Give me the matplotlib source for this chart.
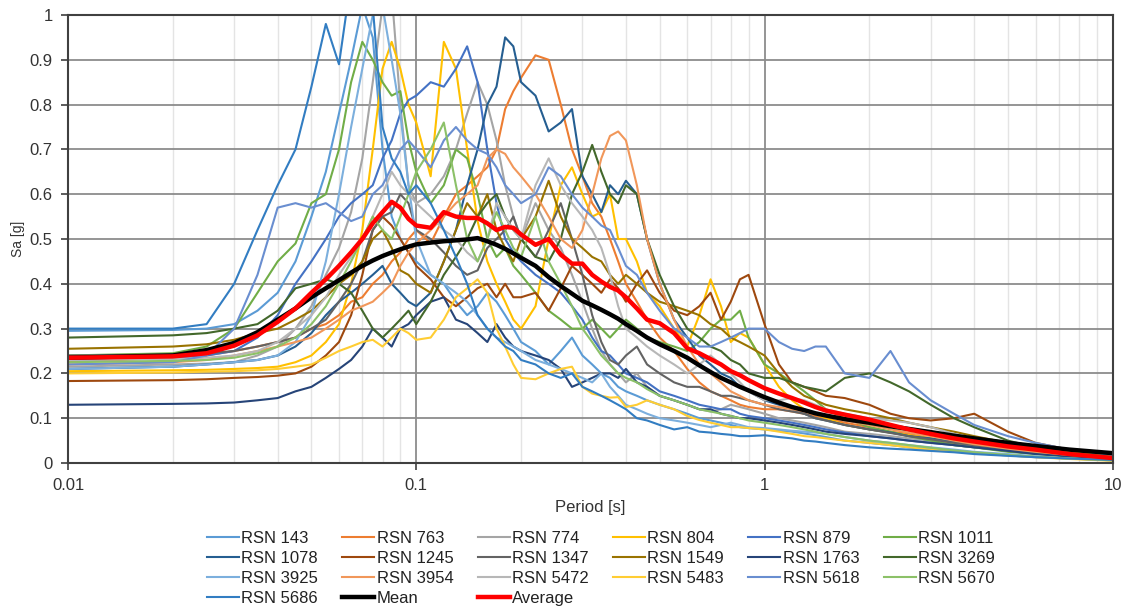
import matplotlib
matplotlib.use("Agg")
import matplotlib.pyplot as plt
from matplotlib.ticker import FixedLocator, NullFormatter, LogLocator

plt.rcParams['font.family'] = ['Liberation Sans', 'DejaVu Sans']

# spectral periods [s] shared by every record
period = [0.01, 0.02, 0.025, 0.03, 0.035, 0.04, 0.045, 0.05, 0.055, 0.06,
          0.065, 0.07, 0.075, 0.08, 0.085, 0.09, 0.095, 0.1, 0.11, 0.12,
          0.13, 0.14, 0.15, 0.16, 0.17, 0.18, 0.19, 0.2, 0.22, 0.24,
          0.26, 0.28, 0.3, 0.32, 0.34, 0.36, 0.38, 0.4, 0.43, 0.46,
          0.5, 0.55, 0.6, 0.65, 0.7, 0.75, 0.8, 0.85, 0.9, 1.0,
          1.1, 1.2, 1.3, 1.4, 1.5, 1.7, 2.0, 2.3, 2.6, 3.0,
          3.5, 4.0, 5.0, 6.0, 7.5, 10.0]

rsn_143 = [.295, .297, .30, .31, .34, .38, .45, .55, .65, .78,
           .90, 1.02, .95, .70, .55, .50, .47, .45, .42, .40,
           .36, .33, .35, .38, .36, .33, .30, .27, .25, .22,
           .25, .28, .24, .22, .20, .19, .17, .16, .15, .14,
           .13, .12, .11, .10, .095, .09, .085, .08, .078, .075,
           .072, .07, .066, .062, .058, .05, .045, .04, .035, .03,
           .026, .022, .017, .013, .01, .006]
rsn_763 = [.225, .235, .24, .25, .26, .27, .28, .30, .31, .33,
           .36, .37, .40, .42, .45, .47, .50, .52, .49, .55,
           .60, .62, .64, .66, .70, .79, .83, .86, .91, .90,
           .80, .70, .64, .58, .55, .50, .45, .40, .36, .32,
           .28, .25, .21, .18, .16, .15, .14, .13, .125, .12,
           .12, .115, .11, .105, .10, .09, .08, .07, .065, .055,
           .045, .04, .03, .024, .018, .012]
rsn_774 = [.215, .22, .222, .225, .24, .26, .30, .35, .42, .48,
           .56, .68, .85, 1.02, 1.05, .80, .62, .58, .60, .64,
           .70, .78, .85, .80, .72, .62, .55, .50, .58, .52,
           .48, .42, .36, .30, .25, .22, .20, .18, .20, .17,
           .15, .14, .13, .12, .115, .12, .13, .125, .12, .11,
           .10, .095, .09, .085, .08, .07, .065, .06, .055, .05,
           .04, .035, .028, .022, .016, .01]
rsn_804 = [.205, .207, .208, .21, .212, .215, .225, .24, .27, .31,
           .40, .52, .70, .88, .94, .88, .80, .76, .64, .94,
           .88, .70, .54, .45, .40, .36, .32, .30, .35, .50,
           .62, .66, .60, .55, .56, .60, .50, .50, .45, .38,
           .35, .30, .26, .33, .41, .35, .27, .29, .28, .22,
           .17, .14, .12, .11, .10, .085, .075, .068, .062, .055,
           .045, .04, .03, .024, .018, .012]
rsn_879 = [.23, .235, .24, .25, .28, .33, .40, .45, .50, .55,
           .58, .60, .62, .68, .72, .78, .81, .82, .85, .84,
           .88, .93, .85, .70, .58, .50, .47, .45, .42, .40,
           .38, .35, .32, .28, .25, .24, .22, .20, .19, .18,
           .16, .15, .14, .13, .125, .12, .12, .11, .105, .10,
           .095, .09, .085, .08, .075, .068, .06, .055, .05, .045,
           .04, .035, .028, .022, .016, .01]
rsn_1011 = [.24, .245, .26, .30, .38, .45, .49, .58, .60, .70,
            .85, .94, .90, .85, .82, .83, .72, .65, .58, .62,
            .70, .68, .60, .50, .46, .48, .44, .42, .38, .34,
            .32, .30, .30, .32, .30, .28, .30, .32, .30, .28,
            .27, .26, .25, .27, .30, .32, .32, .34, .28, .22,
            .20, .18, .16, .14, .12, .10, .08, .07, .06, .05,
            .04, .035, .025, .02, .014, .008]
rsn_1078 = [.21, .215, .22, .225, .23, .24, .26, .29, .33, .36,
            .38, .40, .42, .44, .40, .38, .36, .35, .38, .45,
            .52, .62, .70, .80, .84, .95, .93, .85, .82, .74,
            .76, .79, .64, .60, .56, .62, .60, .63, .60, .50,
            .40, .32, .28, .24, .22, .20, .19, .17, .16, .14,
            .13, .12, .11, .10, .095, .085, .075, .068, .06, .055,
            .047, .04, .03, .024, .017, .011]
rsn_1245 = [.183, .185, .187, .19, .192, .195, .20, .215, .24, .27,
            .33, .42, .52, .55, .53, .50, .47, .44, .41, .37,
            .35, .37, .39, .40, .37, .40, .37, .37, .38, .34,
            .39, .44, .42, .40, .38, .41, .39, .36, .40, .43,
            .38, .34, .33, .35, .38, .32, .36, .41, .42, .31,
            .22, .18, .17, .16, .15, .145, .13, .11, .10, .095,
            .10, .11, .07, .045, .03, .015]
rsn_1347 = [.24, .242, .245, .25, .26, .27, .28, .30, .32, .36,
            .40, .45, .52, .55, .56, .60, .58, .52, .50, .47,
            .44, .42, .43, .48, .50, .52, .55, .50, .46, .52,
            .58, .50, .42, .33, .27, .23, .22, .24, .26, .22,
            .20, .18, .17, .17, .16, .15, .15, .145, .14, .13,
            .12, .115, .11, .10, .095, .085, .075, .067, .06, .053,
            .045, .04, .032, .025, .018, .012]
rsn_1549 = [.255, .26, .265, .275, .29, .30, .32, .34, .37, .40,
            .42, .45, .50, .52, .48, .43, .42, .40, .38, .45,
            .52, .58, .55, .60, .52, .48, .45, .50, .55, .63,
            .55, .50, .48, .46, .45, .42, .40, .42, .40, .38,
            .36, .35, .34, .33, .31, .30, .28, .27, .26, .24,
            .20, .17, .15, .14, .13, .12, .11, .10, .09, .08,
            .07, .06, .045, .035, .025, .015]
rsn_1763 = [.13, .132, .133, .135, .14, .145, .16, .17, .19, .21,
            .23, .26, .30, .28, .26, .30, .31, .33, .36, .37,
            .32, .31, .29, .27, .31, .28, .26, .25, .24, .23,
            .21, .17, .18, .19, .20, .20, .19, .21, .18, .17,
            .15, .14, .13, .12, .12, .11, .105, .10, .10, .095,
            .09, .085, .08, .075, .07, .065, .06, .055, .05, .045,
            .04, .035, .027, .02, .015, .01]
rsn_3269 = [.28, .285, .29, .30, .31, .34, .39, .40, .41, .40,
            .38, .34, .30, .28, .30, .32, .34, .31, .36, .42,
            .46, .50, .55, .58, .60, .55, .52, .50, .46, .45,
            .50, .60, .65, .71, .65, .60, .58, .62, .60, .50,
            .42, .35, .30, .28, .26, .25, .23, .22, .20, .19,
            .19, .18, .17, .165, .16, .19, .20, .18, .16, .13,
            .10, .08, .05, .035, .022, .012]
rsn_3925 = [.21, .215, .22, .225, .23, .24, .27, .33, .45, .60,
            .75, .88, 1.0, 1.02, .90, .78, .62, .50, .42, .40,
            .38, .36, .33, .30, .28, .27, .26, .25, .23, .22,
            .21, .20, .19, .18, .20, .17, .15, .13, .12, .11,
            .10, .095, .09, .085, .08, .085, .09, .085, .08, .078,
            .075, .072, .07, .068, .065, .058, .05, .045, .04, .035,
            .03, .025, .02, .015, .01, .006]
rsn_3954 = [.22, .225, .23, .24, .25, .26, .27, .28, .30, .32,
            .34, .35, .36, .38, .40, .44, .47, .49, .52, .55,
            .58, .60, .62, .68, .70, .69, .66, .64, .60, .55,
            .50, .48, .52, .60, .68, .73, .74, .72, .62, .50,
            .40, .32, .26, .22, .20, .18, .16, .15, .14, .13,
            .125, .12, .115, .11, .105, .095, .085, .075, .068, .06,
            .05, .042, .032, .025, .018, .012]
rsn_5472 = [.23, .232, .235, .24, .25, .27, .30, .33, .37, .42,
            .46, .50, .55, .60, .65, .62, .60, .58, .55, .52,
            .50, .47, .45, .50, .58, .55, .52, .50, .62, .68,
            .62, .58, .55, .52, .48, .42, .35, .30, .28, .26,
            .24, .22, .20, .22, .24, .22, .20, .18, .16, .14,
            .14, .145, .14, .13, .12, .11, .10, .095, .09, .08,
            .065, .055, .04, .03, .02, .012]
rsn_5483 = [.20, .202, .204, .205, .207, .21, .215, .22, .235, .25,
            .26, .27, .275, .26, .28, .30, .29, .275, .28, .32,
            .37, .39, .41, .38, .30, .26, .22, .19, .187, .20,
            .21, .215, .17, .155, .15, .146, .147, .125, .13, .14,
            .13, .12, .105, .096, .09, .085, .08, .08, .078, .075,
            .07, .065, .06, .058, .055, .05, .045, .04, .035, .03,
            .026, .022, .017, .013, .009, .005]
rsn_5618 = [.22, .225, .24, .30, .42, .57, .58, .57, .58, .56,
            .54, .55, .60, .62, .66, .70, .72, .70, .66, .72,
            .75, .72, .70, .69, .66, .62, .60, .58, .60, .66,
            .64, .60, .57, .55, .53, .52, .48, .44, .42, .38,
            .34, .30, .28, .26, .26, .27, .28, .29, .30, .30,
            .27, .255, .25, .26, .26, .20, .19, .25, .18, .14,
            .11, .085, .06, .045, .03, .018]
rsn_5670 = [.225, .228, .23, .235, .245, .26, .28, .31, .35, .40,
            .45, .50, .55, .52, .50, .55, .60, .65, .70, .76,
            .62, .50, .45, .50, .56, .52, .48, .46, .55, .45,
            .40, .35, .30, .27, .24, .22, .20, .19, .18, .165,
            .15, .14, .13, .12, .115, .11, .105, .10, .095, .09,
            .085, .08, .075, .07, .065, .058, .05, .045, .04, .034,
            .028, .024, .018, .014, .01, .006]
rsn_5686 = [.30, .30, .31, .40, .52, .62, .70, .84, .98, .89,
            1.08, 1.10, 1.02, .75, .68, .65, .60, .62, .58, .52,
            .46, .40, .33, .30, .28, .26, .25, .23, .22, .20,
            .19, .20, .17, .16, .15, .14, .13, .12, .10, .095,
            .085, .075, .08, .07, .068, .065, .063, .06, .06, .062,
            .058, .055, .05, .048, .045, .04, .035, .032, .03, .027,
            .024, .02, .016, .013, .01, .007]

mean = [.235, .24, .252, .268, .292, .32, .345, .37, .39, .408,
        .425, .44, .452, .462, .47, .477, .483, .488, .492, .495,
        .497, .499, .502, .495, .487, .478, .468, .458, .44, .415,
        .395, .378, .362, .352, .342, .332, .322, .31, .295, .28,
        .265, .25, .235, .218, .203, .19, .18, .17, .162, .147,
        .135, .125, .118, .111, .106, .098, .09, .082, .076, .069,
        .061, .055, .045, .038, .03, .022]
average = [.235, .238, .245, .262, .285, .315, .345, .38, .41, .44,
           .47, .50, .535, .56, .583, .57, .545, .53, .525, .56,
           .55, .547, .547, .535, .52, .527, .525, .51, .487, .50,
           .465, .445, .445, .42, .405, .393, .385, .37, .345, .32,
           .312, .29, .256, .245, .232, .22, .205, .196, .185, .167,
           .155, .145, .135, .125, .117, .108, .097, .085, .075, .065,
           .055, .048, .037, .03, .02, .011]

records = [("RSN 143", rsn_143, "#5B9BD5"),
           ("RSN 763", rsn_763, "#ED7D31"),
           ("RSN 774", rsn_774, "#A5A5A5"),
           ("RSN 804", rsn_804, "#FFC000"),
           ("RSN 879", rsn_879, "#4472C4"),
           ("RSN 1011", rsn_1011, "#70AD47"),
           ("RSN 1078", rsn_1078, "#255E91"),
           ("RSN 1245", rsn_1245, "#9E480E"),
           ("RSN 1347", rsn_1347, "#636363"),
           ("RSN 1549", rsn_1549, "#997300"),
           ("RSN 1763", rsn_1763, "#264478"),
           ("RSN 3269", rsn_3269, "#43682B"),
           ("RSN 3925", rsn_3925, "#7CAFDD"),
           ("RSN 3954", rsn_3954, "#F1975A"),
           ("RSN 5472", rsn_5472, "#B7B7B7"),
           ("RSN 5483", rsn_5483, "#FFCD33"),
           ("RSN 5618", rsn_5618, "#698ED0"),
           ("RSN 5670", rsn_5670, "#8CC168"),
           ("RSN 5686", rsn_5686, "#327DC2")]

fig = plt.figure(figsize=(11.24, 6.09), dpi=100)
ax = fig.add_axes([0.0605, 0.2397, 0.9295, 0.7357])

handles = []
for name, sa, col in records:
    h, = ax.plot(period, sa, color=col, lw=1.5, label=name)
    handles.append(h)
h, = ax.plot(period, mean, color="black", lw=3.2, label="Mean")
handles.append(h)
h, = ax.plot(period, average, color="#FF0000", lw=3.2, label="Average")
handles.append(h)

ax.set_xscale("log")
ax.set_xlim(0.01, 10)
ax.set_ylim(0, 1)

xt = [0.01, 0.1, 1, 10]
ax.xaxis.set_major_locator(FixedLocator(xt))
ax.set_xticklabels(["0.01", "0.1", "1", "10"])
ax.xaxis.set_minor_locator(LogLocator(base=10, subs=range(2, 10)))
ax.xaxis.set_minor_formatter(NullFormatter())
yt = [i / 10 for i in range(11)]
ax.set_yticks(yt)
ax.set_yticklabels(["0"] + ["0.%d" % i for i in range(1, 10)] + ["1"])

ax.grid(which="major", axis="both", color="#8C8C8C", lw=1.3)
ax.grid(which="minor", axis="x", color="#E4E4E4", lw=1.0)
ax.set_axisbelow(True)
ax.tick_params(which="major", direction="out", length=5, width=1.2,
               color="#404040", labelsize=12, labelcolor="#333333", pad=6)
ax.tick_params(which="minor", length=0)
for s in ax.spines.values():
    s.set_color("#404040")
    s.set_linewidth(1.5)

ax.set_xlabel("Period [s]", fontsize=12, color="#333333", labelpad=5)
ax.set_ylabel("Sa [g]", fontsize=10, color="#333333", labelpad=3)

# legend laid out row by row, 6 entries per row
ncol = 6
nrow = -(-len(handles) // ncol)
order = []
for c in range(ncol):
    for r in range(nrow):
        i = r * ncol + c
        if i < len(handles):
            order.append(i)
leg = ax.legend([handles[i] for i in order], [handles[i].get_label() for i in order],
                loc="upper center", bbox_to_anchor=(0.51, -0.122), ncol=ncol,
                frameon=False, fontsize=12, handlelength=1.92, handletextpad=0.15,
                columnspacing=1.45, labelspacing=0.3, borderpad=0.3)
for t in leg.get_texts():
    t.set_color("#222222")

fig.savefig("out.png", dpi=100)
